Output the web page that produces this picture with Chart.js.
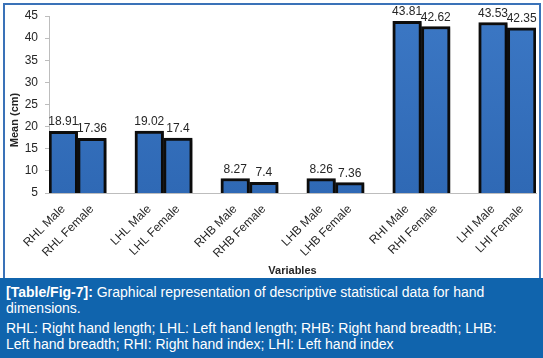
<!DOCTYPE html>
<html>
<head>
<meta charset="utf-8">
<script src="https://cdn.jsdelivr.net/npm/chart.js@4/dist/chart.umd.min.js"></script>
<style>
  html, body { margin: 0; padding: 0; background: #fff; }
  body { width: 543px; height: 358px; position: relative; overflow: hidden; font-family: "Liberation Sans", Arial, sans-serif; }
  #wrap { position: absolute; left: 0; top: 0; width: 543px; height: 278px; }
  #frame { position: absolute; left: 3px; top: 3px; width: 534px; height: 280px; border: 2px solid #3a72b8; pointer-events: none; }
  #caption { position: absolute; left: 0; top: 278px; width: 543px; height: 80px; background: #1064ad; color: #fff; font-size: 14px; line-height: 16px; box-sizing: border-box; padding: 6px 36px 0 6px; }
  #caption p { margin: 0; }
  #caption p + p { margin-top: 4px; }
</style>
</head>
<body>
<div id="wrap"><canvas id="c"></canvas></div>
<div id="frame"></div>
<div id="caption">
  <p><b>[Table/Fig-7]:</b> Graphical representation of descriptive statistical data for hand dimensions.</p>
  <p>RHL: Right hand length; LHL: Left hand length; RHB: Right hand breadth; LHB: Left hand breadth; RHI: Right hand index; LHI: Left hand index</p>
</div>
<script>
// Categories (empty strings are the gaps between groups)
const categories = [
  'RHL Male', 'RHL Female', '',
  'LHL Male', 'LHL Female', '',
  'RHB Male', 'RHB Female', '',
  'LHB Male', 'LHB Female', '',
  'RHI Male', 'RHI Female', '',
  'LHI Male', 'LHI Female'
];
const meanValues = [
  18.91, 17.36, null,
  19.02, 17.4, null,
  8.27, 7.4, null,
  8.26, 7.36, null,
  43.81, 42.62, null,
  43.53, 42.35
];
const yTicks = [5, 10, 15, 20, 25, 30, 35, 40, 45];
const yTitle = 'Mean (cm)';
const xTitle = 'Variables';

const FONT = '"Liberation Sans", Arial, sans-serif';
const TEXT = '#262626';

const shadowPlugin = {
  id: 'barShadow',
  beforeDatasetsDraw(chart) {
    const ctx = chart.ctx;
    ctx.save();
    ctx.shadowColor = 'rgba(0,0,0,0.35)';
    ctx.shadowBlur = 3;
    ctx.shadowOffsetX = 2;
    ctx.shadowOffsetY = 1;
  },
  afterDatasetsDraw(chart) {
    chart.ctx.restore();
  }
};

const labelPlugin = {
  id: 'valueLabels',
  afterDraw(chart) {
    const ctx = chart.ctx;
    ctx.save();
    ctx.fillStyle = TEXT;
    ctx.font = '12px ' + FONT;
    ctx.textAlign = 'center';
    ctx.textBaseline = 'alphabetic';
    const meta = chart.getDatasetMeta(0);
    meta.data.forEach((bar, i) => {
      const v = meanValues[i];
      if (v === null || v === undefined) return;
      ctx.fillText(String(v), bar.x, bar.y - 6);
    });
    // y-axis title
    ctx.font = 'bold 11px ' + FONT;
    ctx.translate(15, 120);
    ctx.rotate(-Math.PI / 2);
    ctx.textBaseline = 'middle';
    ctx.fillText(yTitle, 0, 0);
    ctx.restore();
  }
};

new Chart(document.getElementById('c'), {
  type: 'bar',
  data: {
    labels: categories,
    datasets: [{
      data: meanValues,
      backgroundColor: (c) => {
        const area = c.chart.chartArea;
        if (!area) return '#3570bd';
        const g = c.chart.ctx.createLinearGradient(0, area.top, 0, area.bottom);
        g.addColorStop(0, '#3b77c4');
        g.addColorStop(1, '#2f69b5');
        return g;
      },
      borderColor: '#0d0d0d',
      borderWidth: 3,
      borderSkipped: false,
      barPercentage: 1,
      categoryPercentage: 1
    }]
  },
  plugins: [shadowPlugin, labelPlugin],
  options: {
    responsive: true,
    maintainAspectRatio: false,
    animation: false,
    events: [],
    layout: { padding: { top: 16, right: 7, left: 0, bottom: 0 } },
    plugins: { legend: { display: false }, tooltip: { enabled: false } },
    scales: {
      x: {
        grid: { display: false, drawTicks: false },
        border: { display: true, color: '#bdbdbd', width: 1 },
        ticks: {
          color: TEXT, font: { family: FONT, size: 12 },
          minRotation: 45, maxRotation: 45, autoSkip: false, padding: 9
        },
        title: { display: true, text: xTitle, color: TEXT, font: { family: FONT, size: 11, weight: 'bold' }, padding: { top: 0, bottom: 0 } },
        afterFit: (s) => { s.height = 85; }
      },
      y: {
        min: 5, max: 45,
        afterBuildTicks: (s) => { s.ticks = yTicks.map(v => ({ value: v })); },
        grid: { display: true, drawOnChartArea: false, drawTicks: true, tickLength: 4, color: '#bdbdbd' },
        border: { display: true, color: '#bdbdbd', width: 1 },
        ticks: { color: TEXT, font: { family: FONT, size: 12 }, padding: 7 },
        afterFit: (s) => { s.width = 49; }
      }
    }
  }
});
</script>
</body>
</html>
